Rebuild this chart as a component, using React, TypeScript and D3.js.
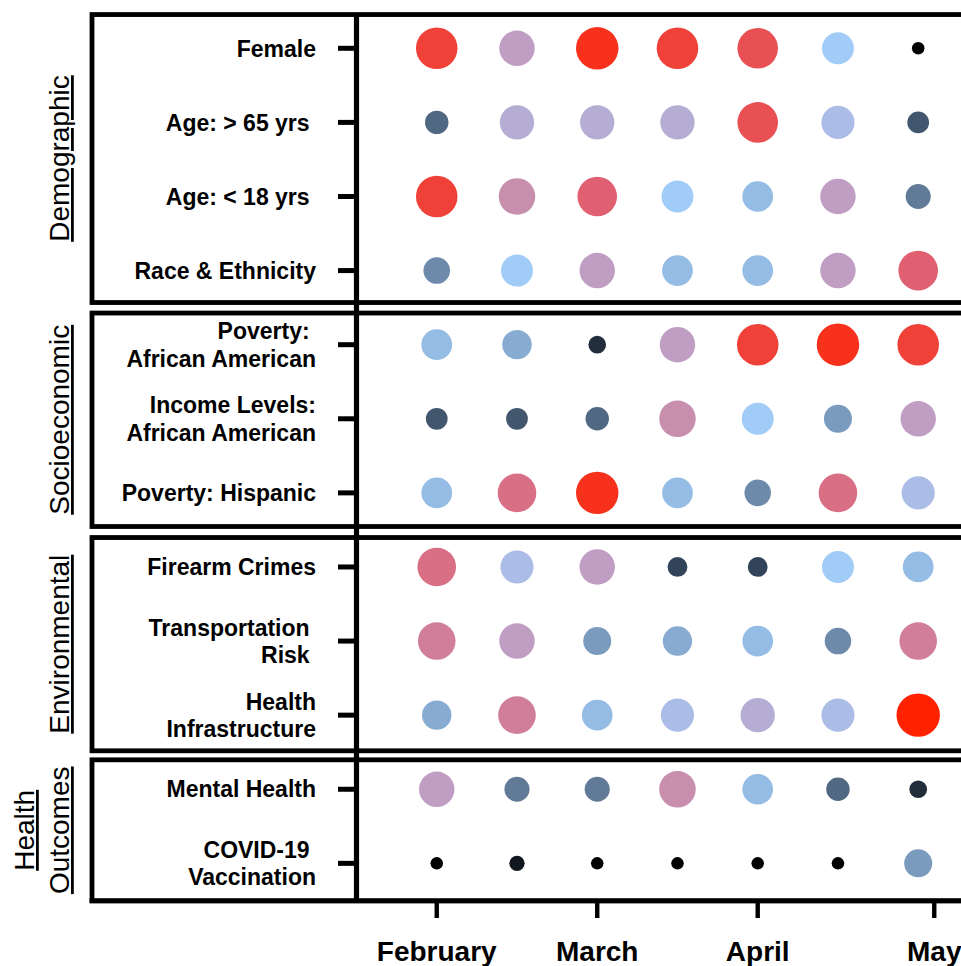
import React from "react";
import * as d3 from "d3";

// ---------- data ----------
const periods = [0, 1, 2, 3, 4, 5, 6];
const monthTickPositions = [0, 2, 4, 6.2];
const monthTickLabels = ["February", "March", "April", "May"];

const groupTitles: string[][] = [["Demographic"], ["Socioeconomic"], ["Environmental"], ["Health", "Outcomes"]];

const demographicLabels: string[][] = [["Female"], ["Age: > 65 yrs "], ["Age: < 18 yrs "], ["Race & Ethnicity"]];
const demographicScores: number[][] = [
  [22, 16, 23, 22, 21, 13, 2],
  [7, 15, 15, 15, 21, 14, 6],
  [22, 17, 20, 13, 12, 16, 8],
  [9, 13, 16, 12, 12, 16, 20],
];

const socioeconomicLabels: string[][] = [["Poverty: ", "African American"], ["Income Levels:", "African American"], ["Poverty: Hispanic"]];
const socioeconomicScores: number[][] = [
  [12, 11, 4, 16, 22, 23, 22],
  [6, 6, 7, 17, 13, 10, 16],
  [12, 19, 23, 12, 9, 19, 14],
];

const environmentalLabels: string[][] = [["Firearm Crimes"], ["Transportation ", "Risk "], ["Health", "Infrastructure"]];
const environmentalScores: number[][] = [
  [19, 14, 16, 5, 5, 13, 12],
  [18, 16, 10, 11, 12, 9, 18],
  [11, 18, 12, 14, 15, 14, 24],
];

const outcomeLabels: string[][] = [["Mental Health"], ["COVID-19 ", "Vaccination"]];
const outcomeScores: number[][] = [
  [16, 8, 8, 17, 12, 7, 4],
  [2, 3, 2, 2, 2, 2, 10],
];

const colorStops = [2, 5, 8, 13, 16, 20, 24];
const colorValues = ["#000000", "#324459", "#617a98", "#a1ccf7", "#c09dc3", "#e05f70", "#ff2200"];

// ---------- layout ----------
const W = 961;
const H = 966;
const FONT = "'Liberation Sans', Arial, Helvetica, sans-serif";
const panelLeft = 92;
const panelRight = 1000;
const axisX = 356.5;
const labelRight = 316;
const panelTopInset = [3.3, 5.4, 7.6, 7.6];
const panelBottomInset = [5.1, 3.4, 1.4, -0.4];

export default function App() {
  const groups = [
    { labels: demographicLabels, scores: demographicScores },
    { labels: socioeconomicLabels, scores: socioeconomicScores },
    { labels: environmentalLabels, scores: environmentalScores },
    { labels: outcomeLabels, scores: outcomeScores },
  ];
  const rows: { labels: string[]; scores: number[]; index: number }[] = [];
  const groupRanges: [number, number][] = [];
  groups.forEach((g) => {
    const start = rows.length;
    g.labels.forEach((l, i) => rows.push({ labels: l, scores: g.scores[i], index: rows.length }));
    groupRanges.push([start, rows.length - 1]);
  });

  const y = d3
    .scaleBand<number>()
    .domain(rows.map((r) => r.index))
    .range([11.25, 900.4])
    .paddingInner(0)
    .paddingOuter(0);
  const yc = (i: number) => (y(i) as number) + y.bandwidth() / 2;

  const x = d3.scaleLinear().domain([-1, 6]).range([axisX, 918.2]);
  const r = d3.scaleSqrt().domain([0, 24]).range([0, 21.7]);
  const color = d3
    .scaleLinear<string>()
    .domain(colorStops)
    .range(colorValues)
    .interpolate(d3.interpolateRgb);

  const axisY = y.range()[1] + 0.4;
  const lw = 4.8;

  const panels = groupRanges.map(([s, e], gi) => {
    const top = (y(s) as number) + panelTopInset[gi];
    const bottom = (y(e) as number) + y.bandwidth() - panelBottomInset[gi];
    return { top, bottom };
  });

  const labelSize = 23;
  const lineGap = 27.2;
  const capH = labelSize * 0.716;

  return (
    <svg
      width={W}
      height={H}
      style={{ position: "absolute", left: 0, top: 0, background: "#fff" }}
      fontFamily={FONT}
    >
      <rect x={0} y={0} width={W} height={H} fill="#fff" />
      {/* panel boxes */}
      {panels.map((p, i) => (
        <rect
          key={"p" + i}
          x={panelLeft}
          y={p.top}
          width={panelRight - panelLeft}
          height={p.bottom - p.top}
          fill="none"
          stroke="#000"
          strokeWidth={lw}
        />
      ))}
      {/* bottom axis line */}
      <line x1={panelLeft - lw / 2} x2={W + 10} y1={axisY} y2={axisY} stroke="#000" strokeWidth={lw} />
      {/* vertical axis line */}
      <line x1={axisX} x2={axisX} y1={panels[0].top} y2={axisY} stroke="#000" strokeWidth={5.2} />

      {/* y ticks and labels */}
      {rows.map((row) => {
        const cy = yc(row.index);
        const n = row.labels.length;
        const firstBaseline = cy - ((n - 1) * lineGap) / 2 + capH / 2;
        return (
          <g key={"r" + row.index}>
            <line x1={338} x2={axisX} y1={cy} y2={cy} stroke="#000" strokeWidth={5} />
            <text
              x={labelRight}
              textAnchor="end"
              fontSize={labelSize}
              fontWeight="bold"
              fill="#000"
              style={{ whiteSpace: "pre" }}
            >
              {row.labels.map((t, i) => (
                <tspan key={i} x={labelRight} y={firstBaseline + i * lineGap} style={{ whiteSpace: "pre" }}>
                  {t}
                </tspan>
              ))}
            </text>
          </g>
        );
      })}

      {/* group titles */}
      {groupTitles.map((lines, gi) => {
        const cy = (panels[gi].top + panels[gi].bottom) / 2;
        const n = lines.length;
        const baseX = 69;
        return (
          <g key={"g" + gi}>
            {lines.map((t, li) => {
              const bx = baseX - (n - 1 - li) * 35;
              return (
                <text
                  key={li}
                  transform={`translate(${bx},${cy}) rotate(-90)`}
                  textAnchor="middle"
                  fontSize={28}
                  fill="#000"
                  style={{ textDecoration: "underline" }}
                >
                  {t}
                </text>
              );
            })}
          </g>
        );
      })}

      {/* dots */}
      {rows.map((row) =>
        row.scores.map((v, j) => (
          <circle
            key={row.index + "-" + j}
            cx={x(periods[j])}
            cy={yc(row.index)}
            r={r(v)}
            fill={color(v)}
          />
        ))
      )}

      {/* x ticks */}
      {monthTickPositions.map((p, i) => (
        <g key={"x" + i}>
          <line x1={x(p)} x2={x(p)} y1={axisY} y2={918} stroke="#000" strokeWidth={4.4} />
          <text x={x(p)} y={961} textAnchor="middle" fontSize={28} fontWeight="bold" fill="#000">
            {monthTickLabels[i]}
          </text>
        </g>
      ))}
    </svg>
  );
}
